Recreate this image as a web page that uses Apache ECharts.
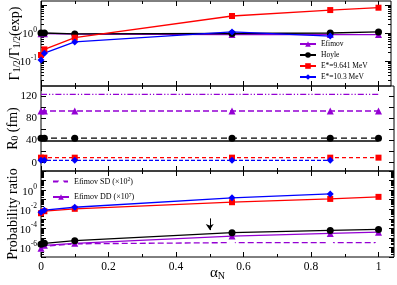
<!DOCTYPE html>
<html><head><meta charset="utf-8">
<script src="https://cdn.jsdelivr.net/npm/echarts@6/dist/echarts.min.js"></script>
<style>html,body{margin:0;padding:0;background:#fff}#c{width:397px;height:285px}</style>
</head><body><div id="c"></div>
<script>
// ---------- data ----------
const X_ALL = [0, 0.01, 0.1, 0.566, 0.857, 1];
const X_BLUE = [0, 0.01, 0.1, 0.566, 0.857];
const X_LINE = [0, 1];
const X_TICKS = [0, 0.2, 0.4, 0.6, 0.8, 1];
const X_MINOR = [0.1, 0.3, 0.5, 0.7, 0.9];

// panel 1: Gamma ratio
const G_EFIMOV = [0.95, 0.95, 0.92, 0.88, 0.88, 0.88];
const G_HOYLE = [1.0, 1.0, 0.93, 0.96, 1.0, 1.09];
const G_E9641 = [0.164, 0.26, 0.68, 4.05, 6.6, 8.0];
const G_E103 = [0.108, 0.19, 0.48, 1.09, 0.78];
const G_TICKS = [0.1, 1, 10];
const G_LABELS = [0.1, 1];

// panel 2: R0 (fm)
const R_EFIMOV_LIM = [123, 123];
const R_EFIMOV = [93, 93, 93, 93, 93, 93];
const R_HOYLE = [44, 44, 44, 44, 44, 44];
const R_HOYLE_REF = [39, 39];
const R_E9641 = [9, 9, 9, 9, 9, 9];
const R_E103 = [4.3, 4.3, 4.3, 4.3, 4.3];
const R_TICKS = [0, 20, 40, 60, 80, 100, 120];
const R_LABELS = [0, 40, 80, 120];

// panel 3: probability ratio
const P_E103 = [4.9e-3, 7.9e-3, 0.016, 0.155, 0.40];
const P_E9641 = [3.8e-3, 6.2e-3, 0.011, 0.054, 0.12, 0.196];
const P_HOYLE = [2.1e-6, 2.7e-6, 5.1e-6, 3.5e-5, 6e-5, 7.7e-5];
const P_DD = [8.1e-7, 1.65e-6, 2.7e-6, 1.55e-5, 2.9e-5, 4e-5];
const P_SD = [1.0e-6, 1.3e-6, 2.4e-6, 3.2e-6, 3.2e-6, 3.2e-6];
const P_LIMIT = 1.1e-3;
const ARROW_X = 0.5, ARROW_FROM = 1.1e-3, ARROW_TO = 6.5e-5;
const P_TICKS = [1e-7, 1e-6, 1e-5, 1e-4, 1e-3, 1e-2, 1e-1, 1, 10, 100];
const P_LABELS = [1e-6, 1e-4, 1e-2, 1];

// ---------- helpers ----------
const minorOf = (decades) => {
  const out = [];
  decades.forEach(d => { for (let k = 2; k <= 9; k++) out.push(+(k * d).toPrecision(3)); });
  return out;
};
const G_MINOR = minorOf([0.01, 0.1, 1, 10]);
const P_MINOR = minorOf([1e-7, 1e-6, 1e-5, 1e-4, 1e-3, 1e-2, 1e-1, 1, 10]);
const zip = (xs, ys) => xs.map((x, i) => [x, ys[i]]);

const SERIF = 'Liberation Serif';
const PURPLE = '#9400d3', RED = '#ff0000', BLUE = '#0000ff', BLACK = '#000000';

const grids = [
  {left: 41, top: 1, width: 350, height: 85},
  {left: 41, top: 86, width: 353, height: 85},
  {left: 41, top: 171, width: 353, height: 86}
].map(g => Object.assign({show: true, borderColor: '#000', borderWidth: 1, backgroundColor: 'transparent',
  containLabel: false, outerBoundsMode: 'none'}, g));
const PX_PER_UNIT = 337.5;
const XMAX = grids.map(g => g.width / PX_PER_UNIT);

const supFmt = v => { const e = Math.round(Math.log10(v)); return '{b|10}{sup|' + e + '}'; };
const supRich = {
  b: {fontFamily: SERIF, fontSize: 11, lineHeight: 14, verticalAlign: 'bottom', color: '#000'},
  sup: {fontFamily: SERIF, fontSize: 7.5, lineHeight: 7, verticalAlign: 'top', color: '#000'}
};

const xAxes = [], yAxes = [], XI = [], YI = [];
function xAx(g, pos, ticks, len, labels) {
  const a = {
    type: 'value', gridIndex: g, position: pos, min: 0, max: XMAX[g],
    axisLine: {show: false, onZero: false}, splitLine: {show: false},
    axisTick: {show: true, inside: true, length: len, customValues: ticks, lineStyle: {color: '#000', width: 1}},
    axisLabel: {show: false}
  };
  if (labels) {
    a.axisLabel = {show: true, customValues: labels, margin: 4, fontFamily: SERIF, fontSize: 11.5, color: '#000',
      formatter: v => String(v)};
    a.name = '{a|α}{sub|N}';
    a.nameLocation = 'middle';
    a.nameGap = 8;
    a.nameMoveOverlap = false;
    a.nameTextStyle = {rich: {
      a: {fontFamily: SERIF, fontSize: 15, color: '#000', lineHeight: 16},
      sub: {fontFamily: SERIF, fontSize: 10, color: '#000', verticalAlign: 'bottom', lineHeight: 10}
    }};
  }
  return a;
}
function yAx(g, pos, base, ticks, len, labels) {
  const a = Object.assign({
    gridIndex: g, position: pos,
    axisLine: {show: false, onZero: false}, splitLine: {show: false},
    axisTick: {show: true, inside: true, length: len, customValues: ticks, lineStyle: {color: '#000', width: 1}},
    axisLabel: {show: false}
  }, base);
  if (labels) {
    a.axisLabel = Object.assign({show: true, margin: 4, fontFamily: SERIF, fontSize: 11, color: '#000'}, labels.style);
    a.axisLabel.customValues = labels.values;
    a.name = labels.name; a.nameLocation = 'middle'; a.nameGap = labels.gap; a.nameRotate = 90;
    a.nameMoveOverlap = false;
    a.nameTextStyle = labels.nameStyle;
  }
  return a;
}
for (let g = 0; g < 3; g++) {
  XI[g] = xAxes.length;
  xAxes.push(xAx(g, 'bottom', X_TICKS, 5, g === 2 ? X_TICKS : null));
  xAxes.push(xAx(g, 'bottom', X_MINOR, 3));
  xAxes.push(xAx(g, 'top', X_TICKS, 5));
  xAxes.push(xAx(g, 'top', X_MINOR, 3));
}
const titleRich = {
  t: {fontFamily: SERIF, fontSize: 14, color: '#000'},
  sub: {fontFamily: SERIF, fontSize: 9.5, color: '#000', verticalAlign: 'bottom', lineHeight: 9}
};
// panel 1 y
const g1base = {type: 'log', logBase: 10, min: 0.0128, max: 13.9};
YI[0] = yAxes.length;
yAxes.push(yAx(0, 'left', g1base, G_TICKS, 6, {values: G_LABELS, style: {formatter: supFmt, rich: supRich},
  name: '{t|Γ}{sub|1/2}{t|/Γ}{sub|1/2}{t|(exp)}', gap: 19, nameStyle: {rich: titleRich}}));
yAxes.push(yAx(0, 'left', g1base, G_MINOR, 3));
yAxes.push(yAx(0, 'right', g1base, G_TICKS, 6));
yAxes.push(yAx(0, 'right', g1base, G_MINOR, 3));
// panel 2 y
const g2base = {type: 'value', min: -15, max: 138};
YI[1] = yAxes.length;
yAxes.push(yAx(1, 'left', g2base, R_TICKS, 5, {values: R_LABELS, style: {formatter: v => String(v)},
  name: '{t|R}{sub|0}{t| (fm)}', gap: 21, nameStyle: {rich: titleRich}}));
yAxes.push(yAx(1, 'right', g2base, R_TICKS, 5));
// panel 3 y
const g3base = {type: 'log', logBase: 10, min: 1e-7, max: 100};
YI[2] = yAxes.length;
yAxes.push(yAx(2, 'left', g3base, P_TICKS, 5, {values: P_LABELS, style: {formatter: supFmt, rich: supRich},
  name: '{t|Probability ratio}', gap: 21, nameStyle: {rich: titleRich}}));
yAxes.push(yAx(2, 'left', g3base, P_MINOR, 3));
yAxes.push(yAx(2, 'right', g3base, P_TICKS, 5));
yAxes.push(yAx(2, 'right', g3base, P_MINOR, 3));

function ser(name, g, xs, ys, color, symbol, size, dash, extra) {
  return Object.assign({
    name: name, type: 'line', xAxisIndex: XI[g], yAxisIndex: YI[g], data: zip(xs, ys),
    symbol: symbol || 'none', symbolSize: size || 6, showSymbol: !!symbol, clip: false,
    lineStyle: {color: color, width: 1.3, type: dash || 'solid'},
    itemStyle: {color: color}, animation: false
  }, extra || {});
}
const emptyStyle = {itemStyle: {color: '#fff', borderColor: PURPLE, borderWidth: 1}};

const series = [
  // panel 1
  ser('Efimov', 0, X_ALL, G_EFIMOV, PURPLE, 'triangle', 7),
  ser('Hoyle', 0, X_ALL, G_HOYLE, BLACK, 'circle', 7),
  ser('E*=9.641 MeV', 0, X_ALL, G_E9641, RED, 'rect', 6),
  ser('E*=10.3 MeV', 0, X_BLUE, G_E103, BLUE, 'diamond', 7),
  // panel 2
  ser('R Efimov lim', 1, X_LINE, R_EFIMOV_LIM, PURPLE, null, 0, [6, 2, 1.2, 2, 1.2, 2]),
  ser('R Hoyle ref', 1, X_LINE, R_HOYLE_REF, BLACK, null, 0, 'solid'),
  ser('R Efimov', 1, X_ALL, R_EFIMOV, PURPLE, 'triangle', 7, [6, 3]),
  ser('R Hoyle', 1, X_ALL, R_HOYLE, BLACK, 'circle', 7, [6, 4]),
  ser('R E9641', 1, X_ALL, R_E9641, RED, 'rect', 6, [4, 3]),
  ser('R E103', 1, X_BLUE, R_E103, BLUE, 'diamond', 7, [4, 2]),
  // panel 3
  ser('Efimov SD', 2, X_ALL, P_SD, PURPLE, 'emptyTriangle', 7, [6, 3], emptyStyle),
  ser('Efimov DD', 2, X_ALL, P_DD, PURPLE, 'triangle', 7),
  ser('P Hoyle', 2, X_ALL, P_HOYLE, BLACK, 'circle', 7, 'solid', {
    markLine: {silent: true, animation: false, symbol: ['none', 'none'], label: {show: false},
      lineStyle: {color: '#000', type: [6, 4], width: 1.3},
      data: [{yAxis: P_LIMIT}]}
  }),
  ser('P E9641', 2, X_ALL, P_E9641, RED, 'rect', 6),
  ser('P E103', 2, X_BLUE, P_E103, BLUE, 'diamond', 7, 'solid', {
    markLine: {silent: true, animation: false, symbol: ['none', 'arrow'], symbolSize: 6, label: {show: false},
      lineStyle: {color: '#000', type: 'solid', width: 1},
      data: [[{coord: [ARROW_X, ARROW_FROM]}, {coord: [ARROW_X, ARROW_TO]}]]}
  })
];

const legendText = {fontFamily: SERIF, fontSize: 7.5, color: '#000', lineHeight: 8};
const option = {
  animation: false,
  backgroundColor: '#fff',
  grid: grids,
  xAxis: xAxes,
  yAxis: yAxes,
  legend: [
    {data: ['Efimov', 'Hoyle', 'E*=9.641 MeV', 'E*=10.3 MeV'], orient: 'vertical', left: 299, top: 40,
      itemWidth: 16, itemHeight: 7, itemGap: 3, padding: 0, selectedMode: false, textStyle: legendText},
    {data: ['Efimov SD', 'Efimov DD'], orient: 'vertical', left: 52, top: 177,
      itemWidth: 16, itemHeight: 7, itemGap: 6.5, padding: 0, selectedMode: false,
      formatter: n => n === 'Efimov SD' ? 'Efimov SD (×10{sup|2})' : 'Efimov DD (×10{sup|7})',
      textStyle: {fontFamily: SERIF, fontSize: 8, color: '#000', lineHeight: 9,
        rich: {sup: {fontFamily: SERIF, fontSize: 5.5, verticalAlign: 'top', lineHeight: 5, color: '#000'}}}}
  ],
  series: series
};
const chart = echarts.init(document.getElementById('c'), null, {renderer: 'canvas'});
chart.setOption(option);
</script></body></html>
